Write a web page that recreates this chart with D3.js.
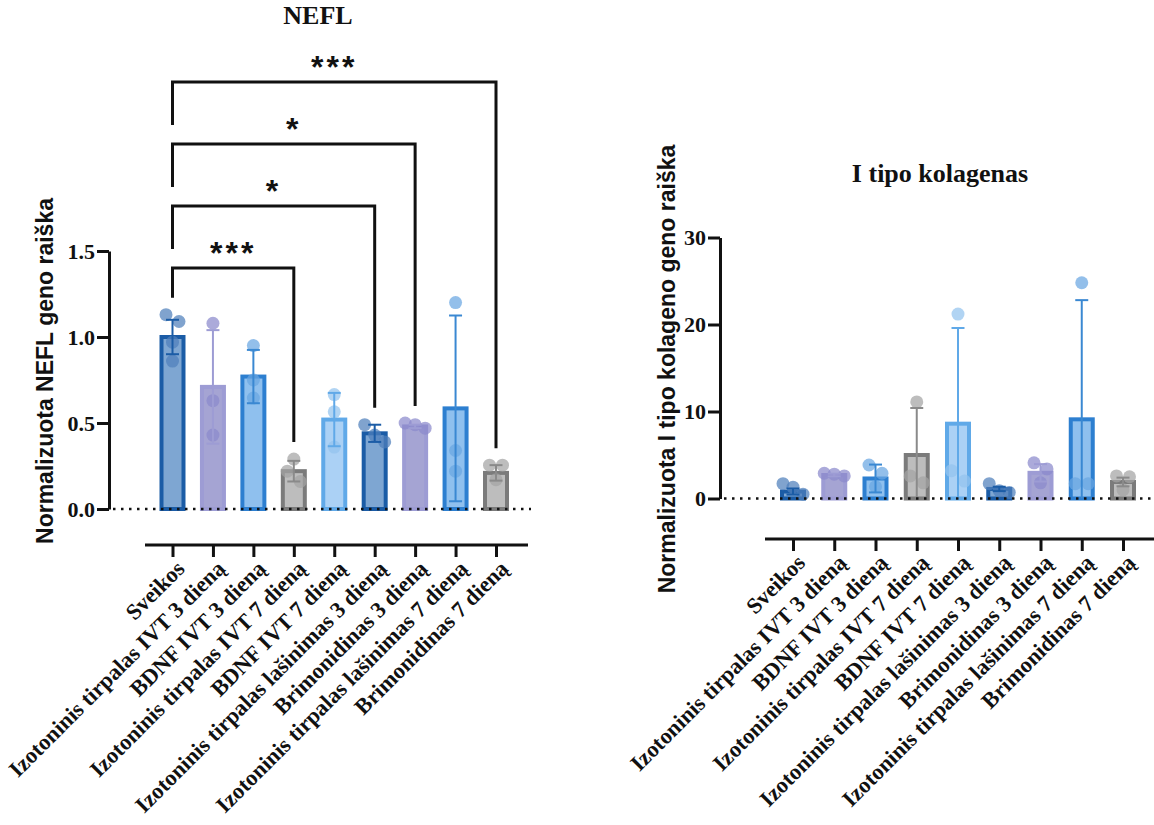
<!DOCTYPE html>
<html><head><meta charset="utf-8">
<script src="https://cdn.jsdelivr.net/npm/d3@7"></script>
<style>body{margin:0;background:#fff}svg{display:block}</style>
</head><body><svg id="c" width="1154" height="825"></svg>
<script>
const categories = ["Sveikos","Izotoninis tirpalas IVT 3 dieną","BDNF IVT 3 dieną","Izotoninis tirpalas IVT 7 dieną","BDNF IVT 7 dieną","Izotoninis tirpalas lašinimas 3 dieną","Brimonidinas 3 dieną","Izotoninis tirpalas lašinimas 7 dieną","Brimonidinas 7 dieną"];
const colorGroup = ["dark","purple","blue","gray","light","dark","purple","blue","gray"];

// NEFL
const neflMeans = [1.00,0.71,0.77,0.22,0.52,0.44,0.48,0.585,0.21];
const neflErr   = [0.10,0.33,0.155,0.06,0.155,0.05,0.01,0.54,0.045];
const neflPoints = [[1.13,1.09,0.97,0.86],[1.08,0.63,0.43],[0.95,0.75,0.645],[0.29,0.22,0.16],[0.665,0.565,0.36],[0.49,0.43,0.39],[0.50,0.49,0.47],[1.20,0.34,0.22],[0.255,0.255,0.17]];
const neflTicks = [0,0.5,1.0,1.5];
const neflSig = [[0,3,"***"],[0,5,"*"],[0,6,"*"],[0,8,"***"]];

// Kolagenas
const kolMeans = [0.8,2.7,2.3,5.0,8.6,1.1,2.95,9.1,1.9];
const kolErr   = [0.35,0.15,1.6,5.4,11.0,0.25,1.0,13.7,0.5];
const kolPoints = [[1.7,1.3,0.5],[2.9,2.8,2.6],[3.85,2.9,1.35],[11.1,2.6,1.8],[21.2,3.2,2.0],[1.7,0.9,0.7],[4.1,3.4,1.8],[24.8,1.7,1.7],[2.6,2.5,1.0]];
const kolTicks = [0,10,20,30];

const pal = {
  dark:  {fill:"#7ea6d2", stroke:"#1b5ca6", pt:"#4f80bb", err:"#1b5ca6"},
  purple:{fill:"#a5a4d3", stroke:"#9d9cd4", pt:"#8a89cc", err:"#9d9cd4"},
  blue:  {fill:"#8fc0ee", stroke:"#2d7fd0", pt:"#6aa6e2", err:"#3a88d2"},
  gray:  {fill:"#bdbdbd", stroke:"#7b7b7b", pt:"#a3a3a3", err:"#8a8a8a"},
  light: {fill:"#abd1f5", stroke:"#60a9e8", pt:"#93c3ef", err:"#60a9e8"}
};

const svg = d3.select("#c");
svg.append("rect").attr("width",1154).attr("height",825).attr("fill","#fff");
const serif = "'Liberation Serif','Times New Roman',serif";
const sans = "'Liberation Sans',Arial,sans-serif";

function swarm(vals, y) {
  const s = vals.map(v=>({v, py:y(v)})).sort((a,b)=>a.py-b.py);
  const groups = [];
  s.forEach(p=>{
    const last = groups[groups.length-1];
    if (last && p.py - last[last.length-1].py < 11) last.push(p); else groups.push([p]);
  });
  const out = [];
  groups.forEach(gr=>{
    const n = gr.length, step = n === 2 ? 13 : 10;
    gr.forEach((p,k)=> out.push({o:(k-(n-1)/2)*step, py:p.py}));
  });
  return out;
}

function drawChart(cfg) {
  const {means, err, points, ticks, y, x, axisX, xLine, xAxisY, dotX, title, titleX, titleY, ylabel, ylabelX, ylabelY, fmt} = cfg;
  const g = svg.append("g");
  const bw = 22;
  categories.forEach((c,i)=>{
    const p = pal[colorGroup[i]];
    g.append("rect").attr("x", x(c)-bw/2).attr("width", bw)
      .attr("y", y(means[i])).attr("height", y(0)-y(means[i]))
      .attr("fill", p.fill).attr("stroke", p.stroke).attr("stroke-width", 4);
  });
  categories.forEach((c,i)=>{
    const p = pal[colorGroup[i]];
    swarm(points[i], y).forEach(q=>{
      g.append("circle").attr("cx", x(c)+q.o).attr("cy", q.py).attr("r", 6.5)
        .attr("fill", p.pt).attr("fill-opacity", 0.72);
    });
  });
  categories.forEach((c,i)=>{
    const p = pal[colorGroup[i]];
    const hi = means[i]+err[i], lo = Math.max(0, means[i]-err[i]);
    g.append("line").attr("x1",x(c)).attr("x2",x(c)).attr("y1",y(hi)).attr("y2",y(lo))
      .attr("stroke",p.err).attr("stroke-width",2);
    g.append("line").attr("x1",x(c)-6.5).attr("x2",x(c)+6.5).attr("y1",y(hi)).attr("y2",y(hi))
      .attr("stroke",p.err).attr("stroke-width",2);
    if (means[i]-err[i] > 0)
      g.append("line").attr("x1",x(c)-6.5).attr("x2",x(c)+6.5).attr("y1",y(lo)).attr("y2",y(lo))
        .attr("stroke",p.err).attr("stroke-width",2);
  });
  g.append("line").attr("x1",dotX[0]).attr("x2",dotX[1]).attr("y1",y(0)).attr("y2",y(0))
    .attr("stroke","#111").attr("stroke-width",2.5).attr("stroke-dasharray","2.5,5.5");
  const ya = g.append("g").attr("transform",`translate(${axisX},0)`)
    .call(d3.axisLeft(y).tickValues(ticks).tickFormat(fmt).tickSize(12).tickSizeOuter(0));
  ya.selectAll("path,line").attr("stroke","#111").attr("stroke-width",3);
  ya.selectAll("text").attr("font-family",serif).attr("font-weight","bold").attr("font-size",22).attr("fill","#111").attr("x",-14);
  const xa = g.append("g").attr("transform",`translate(0,${xAxisY})`)
    .call(d3.axisBottom(x).tickSize(12).tickSizeOuter(0));
  xa.select(".domain").remove();
  xa.selectAll("line").attr("stroke","#111").attr("stroke-width",3);
  xa.selectAll("text").attr("font-family",serif).attr("font-weight","bold").attr("font-size",22.5).attr("fill","#111")
    .attr("text-anchor","end").attr("y",0).attr("dy",0)
    .attr("transform","translate(13,25) rotate(-45)");
  g.append("line").attr("x1",xLine[0]).attr("x2",xLine[1]).attr("y1",xAxisY).attr("y2",xAxisY)
    .attr("stroke","#111").attr("stroke-width",3);
  g.append("text").attr("x",titleX).attr("y",titleY).attr("text-anchor","middle")
    .attr("font-family",serif).attr("font-weight","bold").attr("font-size",26).attr("fill","#111").text(title);
  g.append("text").attr("transform",`translate(${ylabelX},${ylabelY}) rotate(-90)`).attr("text-anchor","middle")
    .attr("font-family",sans).attr("font-weight","bold").attr("font-size",23).attr("fill","#111").text(ylabel);
  return g;
}

const yL = d3.scaleLinear().domain([0,1.5]).range([509,251]);
const xL = d3.scalePoint().domain(categories).range([172.5,496]);
const gL = drawChart({means:neflMeans, err:neflErr, points:neflPoints, ticks:neflTicks, y:yL, x:xL,
  axisX:109, xLine:[145,528], xAxisY:545, dotX:[113,531], title:"NEFL", titleX:318, titleY:24,
  ylabel:"Normalizuota NEFL geno raiška", ylabelX:53, ylabelY:371, fmt:d3.format(".1f")});

const yR = d3.scaleLinear().domain([0,30]).range([498.5,237.5]);
const xR = d3.scalePoint().domain(categories).range([793,1123]);
drawChart({means:kolMeans, err:kolErr, points:kolPoints, ticks:kolTicks, y:yR, x:xR,
  axisX:720, xLine:[765,1154], xAxisY:539, dotX:[724,1154], title:"I tipo kolagenas", titleX:940, titleY:182,
  ylabel:"Normalizuota I tipo kolageno geno raiška", ylabelX:675, ylabelY:369, fmt:d3.format("d")});

let prevY = null;
neflSig.forEach((s,k)=>{
  const [a,b,label] = s;
  const by = yL(1.5) + 17 - k*62;
  const topA = Math.max(...neflPoints[a], neflMeans[a]+neflErr[a]);
  const topB = Math.max(...neflPoints[b], neflMeans[b]+neflErr[b]);
  const leftEnd = prevY === null ? yL(topA) - 17 : prevY - 19;
  const rightEnd = yL(topB) - 17;
  gL.append("path").attr("d",`M${xL(categories[a])},${leftEnd}V${by}H${xL(categories[b])}V${rightEnd}`)
    .attr("fill","none").attr("stroke","#111").attr("stroke-width",3);
  gL.append("text").attr("x",(xL(categories[a])+xL(categories[b]))/2).attr("y",by-4)
    .attr("text-anchor","middle").attr("font-family",sans).attr("font-weight","bold").attr("font-size",32)
    .attr("letter-spacing",3).attr("fill","#111").text(label);
  prevY = by;
});
</script></body></html>
